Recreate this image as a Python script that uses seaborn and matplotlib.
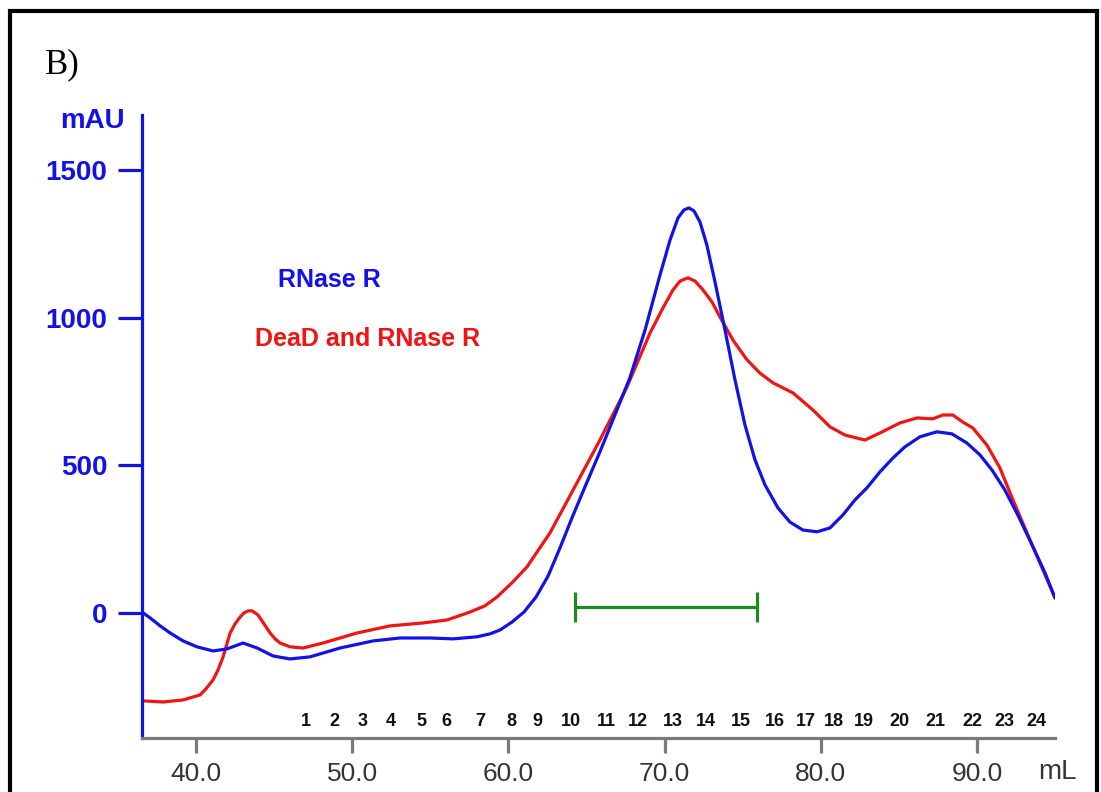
import matplotlib
matplotlib.use("Agg")

import matplotlib.pyplot as plt
from matplotlib.patches import Rectangle
import seaborn as sns

# RNase R alone (blue trace), elution volume in mL vs absorbance in mAU
blue_ml = [36.54, 37.06, 37.70, 38.34, 39.17, 40.06, 41.09, 41.98, 43.01, 43.91,
           44.93, 46.02, 47.30, 49.22, 51.33, 53.06, 54.98, 56.45, 57.99, 58.82,
           59.46, 60.23, 61.00, 61.77, 62.54, 63.30, 64.07, 64.90, 65.86, 66.82,
           67.78, 68.75, 69.71, 70.35, 70.86, 71.24, 71.56, 71.88, 72.27, 72.71,
           73.23, 73.87, 74.51, 75.15, 75.79, 76.43, 77.26, 78.03, 78.86, 79.76,
           80.59, 81.42, 82.19, 82.96, 83.79, 84.62, 85.39, 86.35, 87.44, 88.40,
           89.36, 90.19, 90.96, 91.79, 92.62, 93.59, 94.36, 95.00]
blue_mau = [3, -17, -44, -68, -95, -115, -129, -122, -102, -119,
            -146, -156, -149, -119, -95, -85, -85, -88, -81, -71,
            -58, -31, 3, 54, 125, 220, 322, 427, 546, 671,
            797, 959, 1146, 1264, 1339, 1366, 1373, 1363, 1325, 1247,
            1122, 959, 790, 637, 519, 434, 356, 308, 281, 275,
            288, 332, 383, 424, 478, 525, 563, 597, 614, 607,
            576, 536, 485, 417, 332, 224, 136, 51]

# DeaD and RNase R (red trace)
red_ml = [36.54, 37.89, 39.17, 40.26, 40.64, 41.09, 41.41, 41.73, 42.18, 42.50,
          42.82, 43.07, 43.33, 43.59, 43.97, 44.35, 44.74, 45.06, 45.38, 46.02,
          46.85, 48.13, 50.31, 52.42, 54.53, 56.07, 57.54, 58.50, 59.27, 60.23,
          61.19, 62.66, 64.39, 65.86, 67.59, 69.07, 69.90, 70.54, 70.99, 71.50,
          71.95, 72.46, 73.04, 73.55, 74.38, 75.28, 76.11, 76.94, 78.22, 79.50,
          80.59, 81.55, 82.83, 83.79, 85.07, 86.16, 87.18, 87.82, 88.46, 89.10,
          89.74, 90.64, 91.47, 92.31, 93.59, 95.00]
red_mau = [-298, -302, -295, -278, -257, -227, -193, -149, -68, -37,
           -14, 0, 7, 7, -7, -37, -68, -88, -102, -115,
           -119, -102, -68, -44, -34, -24, 3, 24, 54, 102,
           156, 271, 441, 586, 766, 949, 1034, 1095, 1125, 1136,
           1125, 1095, 1054, 1003, 925, 858, 813, 780, 746, 688,
           631, 603, 586, 610, 644, 661, 658, 671, 671, 647,
           627, 569, 492, 383, 224, 51]

# fraction numbers along the volume axis
fraction_labels = [str(n) for n in range(1, 25)]
fraction_ml = [47.04, 48.83, 50.66, 52.48, 54.40, 56.00, 58.18, 60.17, 61.83, 64.01,
               66.25, 68.30, 70.54, 72.65, 74.89, 77.07, 79.05, 80.85, 82.77, 85.07,
               87.31, 89.68, 91.73, 93.84]
fraction_mau = -369

# pooled fractions (green bar)
pool_start, pool_end, pool_mau = 64.26, 75.92, 20
pool_cap = 52

x_ticks = [40, 50, 60, 70, 80, 90]
y_ticks = [0, 500, 1000, 1500]

BLUE = "#1212e6"
RED = "#f01414"
GREEN = "#1e8a1e"
GREY = "#7a7a7a"

sns.set_theme(style="white")
plt.rcParams['font.family'] = ['Liberation Sans', 'DejaVu Sans']

fig = plt.figure(figsize=(11.01, 7.92), dpi=100)
ax = fig.add_axes([0.129, 0.0682, 0.8292, 0.7866])

sns.lineplot(x=red_ml, y=red_mau, color=RED, lw=2.3, sort=False, ax=ax,
             solid_joinstyle="round", solid_capstyle="round")
sns.lineplot(x=blue_ml, y=blue_mau, color=BLUE, lw=2.3, sort=False, ax=ax,
             solid_joinstyle="round", solid_capstyle="round")

# pool bar with end caps
ax.hlines(pool_mau, pool_start, pool_end, color=GREEN, lw=2.3)
ax.vlines([pool_start, pool_end], pool_mau - pool_cap, pool_mau + pool_cap, color=GREEN, lw=2.3)

ax.set_xlim(36.54, 95.0)
ax.set_ylim(-424, 1688)

# axes styling, chromatogram look
for side in ["top", "right"]:
    ax.spines[side].set_visible(False)
ax.spines["left"].set_color(BLUE)
ax.spines["left"].set_linewidth(2.3)
ax.spines["bottom"].set_color(GREY)
ax.spines["bottom"].set_linewidth(2.3)

ax.set_yticks(y_ticks)
ax.set_yticklabels([str(v) for v in y_ticks], fontsize=20, fontweight="bold", color=BLUE)
ax.tick_params(axis="y", direction="out", length=17, width=2.3, color=BLUE, pad=8, left=True)

ax.set_xticks(x_ticks)
ax.set_xticklabels([f"{v:.1f}" for v in x_ticks], fontsize=19, color="#353535")
ax.tick_params(axis="x", direction="out", length=11, width=2.3, color=GREY, pad=6, bottom=True)

ax.set_xlabel("")
ax.set_ylabel("")

ax.text(-0.0186, 0.990, "mAU", transform=ax.transAxes, ha="right", va="center",
        fontsize=20, fontweight="bold", color=BLUE)
ax.text(1.003, -0.0546, "mL", transform=ax.transAxes, ha="center", va="center",
        fontsize=20, color="#353535")

for lab, xv in zip(fraction_labels, fraction_ml):
    ax.text(xv, fraction_mau, lab, ha="center", va="center", fontsize=13,
            fontweight="bold", color="#111111")

ax.text(45.25, 1129, "RNase R", ha="left", va="center", fontsize=18,
        fontweight="bold", color=BLUE)
ax.text(43.78, 929, "DeaD and RNase R", ha="left", va="center", fontsize=18,
        fontweight="bold", color=RED)

fig.text(0.041, 1 - 65 / 792, "B)", ha="left", va="center", fontsize=25,
         family=["Liberation Serif", "DejaVu Serif"], color="black")

# black frame round the panel, open at the bottom edge
fig.add_artist(Rectangle((0.0095, -0.05), 0.9869, 1.0355, transform=fig.transFigure,
                         fill=False, lw=3, edgecolor="black"))

fig.savefig("out.png", dpi=100)
